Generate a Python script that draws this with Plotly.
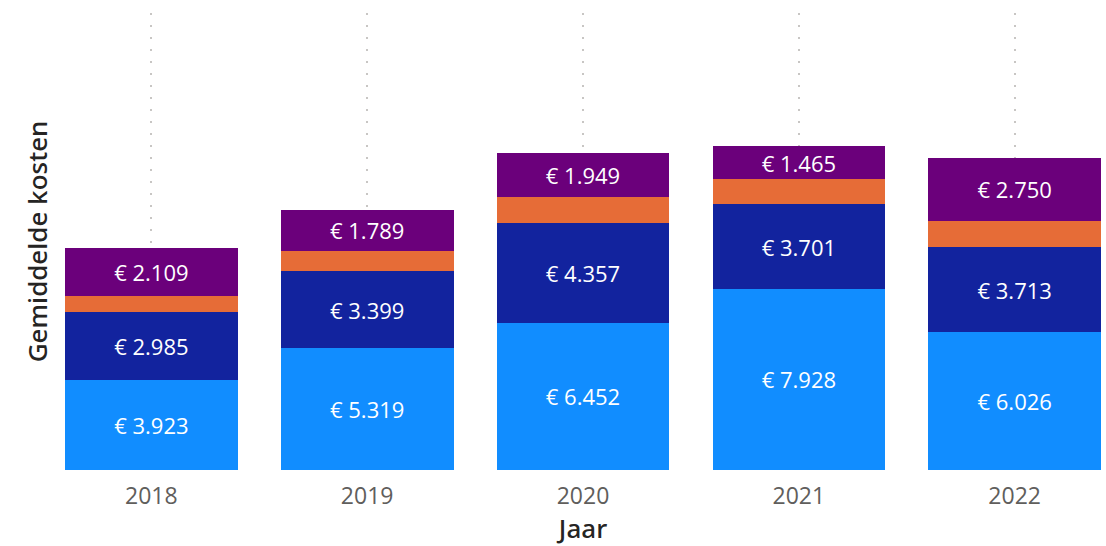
import plotly.graph_objects as go

# Average cost per year, split into four cost components (stacked)
jaren = ["2018", "2019", "2020", "2021", "2022"]
kosten_1 = [3923, 5319, 6452, 7928, 6026]   # light blue, bottom
kosten_2 = [2985, 3399, 4357, 3701, 3713]   # dark blue
kosten_3 = [700, 870, 1120, 1090, 1170]     # orange, unlabelled
kosten_4 = [2109, 1789, 1949, 1465, 2750]   # purple, top

series = [
    ("Kosten 1", kosten_1, "#118DFF", True),
    ("Kosten 2", kosten_2, "#12239E", True),
    ("Kosten 3", kosten_3, "#E66C37", False),
    ("Kosten 4", kosten_4, "#6B007B", True),
]

FONT = "Segoe UI, Open Sans, sans-serif"
TITLE_FONT = "Segoe UI Semibold, Noto Sans, sans-serif"
LABEL_SIZE = 22

fig = go.Figure()
for name, vals, color, labelled in series:
    fig.add_trace(go.Bar(
        name=name,
        x=jaren,
        y=vals,
        marker=dict(color=color, line=dict(width=0)),
        texttemplate="€ %{y:,.0f}" if labelled else "",
        textposition="inside",
        insidetextanchor="middle",
        textfont=dict(family=FONT, size=LABEL_SIZE, color="#FFFFFF"),
        hoverinfo="skip",
    ))

fig.update_layout(
    barmode="stack",
    bargap=0.2,
    width=1106,
    height=546,
    margin=dict(l=65, r=5, t=13, b=76),
    paper_bgcolor="white",
    plot_bgcolor="white",
    showlegend=False,
    separators=",.",
    uniformtext=dict(minsize=LABEL_SIZE, mode="show"),
    font=dict(family=FONT),
)

fig.update_xaxes(
    type="category",
    range=[-0.4, 4.4],
    showgrid=True,
    gridcolor="#C8C6C4",
    gridwidth=1.5,
    griddash="2px,10px",
    showline=False,
    zeroline=False,
    ticks="",
    ticklabelstandoff=10,
    tickfont=dict(family=FONT, size=23, color="#605E5C"),
    title=dict(text="Jaar", font=dict(family=TITLE_FONT, size=26, color="#252423", weight=500), standoff=13),
)

fig.update_yaxes(
    range=[0, 20000],
    showgrid=False,
    zeroline=False,
    showline=False,
    showticklabels=False,
    ticks="",
    title=dict(text="Gemiddelde kosten", font=dict(family=TITLE_FONT, size=26, color="#252423", weight=500), standoff=8),
)

fig.write_html("out.html")
